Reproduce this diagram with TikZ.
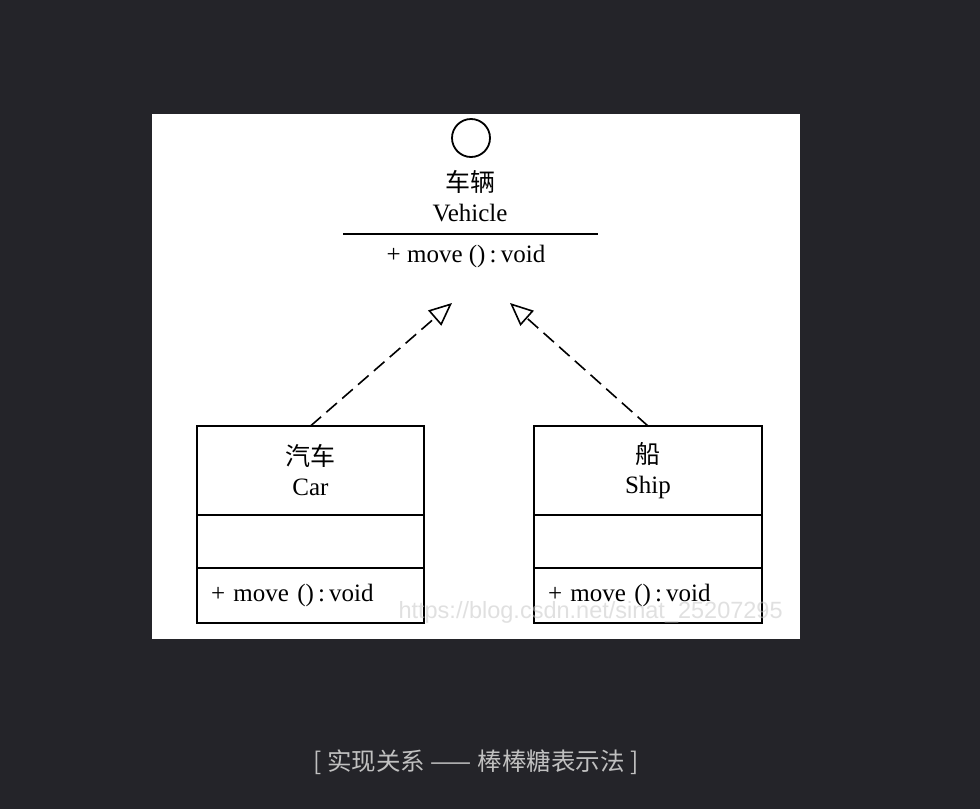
\documentclass[tikz,border=0pt]{standalone}
\usepackage{fontspec}
\setmainfont{Liberation Serif}
\newfontfamily\cjk{Noto Sans CJK SC}
\newfontfamily\wmfont{Liberation Sans}
\usetikzlibrary{arrows.meta, positioning}
\definecolor{pagebg}{RGB}{36,36,41}
\definecolor{captiongray}{RGB}{192,192,192}
\definecolor{wmgray}{RGB}{200,200,200}

\begin{document}
\begin{tikzpicture}[
      x=1pt, y=1pt,
      node distance = 0pt,
      font=\fontsize{25}{30}\selectfont,
      % --- UML class boxes ---
      classbase/.style = {draw, line width=1.6pt, minimum width=227pt, inner sep=0pt, outer sep=0pt},
      classtitle/.style = {classbase, minimum height=89pt, align=center},
      classattr/.style = {classbase, minimum height=53pt},
      classop/.style = {classbase, minimum height=55pt, text width=199pt, inner xsep=14pt, align=left},
      sepline/.style = {line width=1.6pt},
      lolli/.style = {draw, circle, line width=1.8pt, minimum size=38pt, inner sep=0pt},
      realize/.style = {line width=1.6pt, dash pattern=on 14pt off 7pt,
                        -{Triangle[open, length=23pt, width=20pt, line width=1.6pt]}}
    ]

      % --- background and white canvas ---
      \fill[pagebg] (0,0) rectangle (980,-809);
      \fill[white] (152,-114) rectangle (800,-639);

      % --- interface (lollipop) ---
      \node [lolli] (vlolli) at (471,-138) {};
      \node [align=center] (vname) at (470,-196) {{\cjk 车辆}\\Vehicle};
      \coordinate (sepL) at (343,-234);
      \coordinate (sepR) at (598,-234);
      \draw [sepline] (sepL) -- (sepR);
      \node (vop) at (466,-256) {+ move ()\,:\,void};

      % --- implementing classes ---
      \node [classtitle] (car) at (310.5,-470.5) {{\cjk 汽车}\\Car};
      \node [classattr, below=of car] (carattr) {};
      \node [classop, below=of carattr] (carop) {\mbox{+ move ()\,:\,void}};

      \node [classtitle, minimum width=228pt] (ship) at (648,-470.5) {{\cjk 船}\\Ship};
      \node [classattr, minimum width=228pt, below=of ship] (shipattr) {};
      \node [classop, text width=200pt, below=of shipattr] (shipop) {\mbox{+ move ()\,:\,void}};

      % --- realization arrows ---
      \coordinate (tipcar) at (452,-303);
      \coordinate (tipship) at (510,-303);
      \draw [realize] (car.north) -- (tipcar);
      \draw [realize] (ship.north) -- (tipship);

      % watermark
      \node [wmgray, opacity=0.55, anchor=west, font=\wmfont\fontsize{23.5}{23.5}\selectfont] (wmark) at (395,-612) {https://blog.csdn.net/sinat\_25207295};

      % caption
      \node [captiongray, font=\cjk\fontsize{24.5}{24.5}\selectfont] (caption) at (476,-762) {[ 实现关系 —— 棒棒糖表示法 ]};

    \end{tikzpicture}
\end{document}
